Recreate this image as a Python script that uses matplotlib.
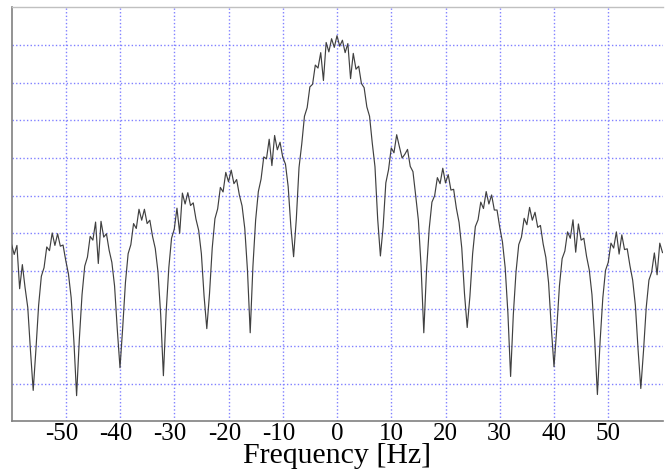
import numpy as np
import matplotlib
matplotlib.use("Agg")
import matplotlib.pyplot as plt
from matplotlib.transforms import ScaledTranslation

# Frequency samples (Hz), 0.5 Hz apart
freq = np.arange(-60, 60.5, 0.5)

# Spectrum level (dB), negative side -60 .. -0.5
power_neg = [
    -52.9, -55.6, -53.2, -64.7, -58.3, -64.4, -69.7, -81.2, -91.7,
    -80.9, -69.1, -61.4, -59.1, -53.6, -54.6, -49.9, -53.2, -50.1, -53.4, -53.1, -57.2, -60.8, -67.1, -78.6, -93.1,
    -78.2, -66.3, -58.7, -56.3, -50.8, -51.8, -47.0, -58.0, -46.8, -51.0, -50.1, -54.5, -57.7, -64.0, -75.5, -85.7,
    -75.0, -63.1, -55.4, -53.0, -47.4, -48.7, -43.6, -46.5, -43.6, -47.4, -46.5, -50.8, -54.0, -60.2, -71.6, -87.8,
    -71.1, -59.1, -51.3, -48.9, -43.3, -50.0, -39.3, -42.2, -39.2, -42.6, -41.9, -46.2, -49.2, -55.4, -66.7, -75.3,
    -66.0, -53.9, -46.1, -43.5, -37.8, -39.0, -33.8, -36.3, -33.2, -36.8, -35.7, -39.8, -42.7, -48.7, -59.9, -76.4,
    -58.8, -46.5, -38.9, -35.6, -29.7, -30.2, -25.0, -32.0, -24.0, -27.8, -25.8, -29.8, -31.6, -37.6, -48.3, -56.2,
    -46.2, -32.5, -26.3, -18.9, -16.6, -11.1, -10.4, -5.3, -6.1, -2.0, -9.4, 0.7, -1.8, 1.7, -0.6,
]
# positive side 0 .. 60
power_pos = [
    2.5, -0.3, 1.3, -2.0, 0.4, -8.9, -2.2, -6.4, -5.6, -10.2, -11.3, -16.4, -18.9, -26.0, -32.3, -46.2, -56.0,
    -48.3, -36.6, -33.1, -27.3, -28.6, -23.8, -27.0, -30.0, -29.0, -27.7, -32.2, -33.6, -39.9, -46.5, -58.8, -76.4,
    -59.9, -48.7, -41.7, -40.0, -35.2, -36.8, -32.7, -36.6, -34.4, -38.5, -38.3, -43.3, -47.1, -53.9, -66.0, -75.0,
    -66.7, -55.4, -48.2, -46.4, -41.7, -43.4, -38.9, -42.2, -39.8, -43.8, -43.8, -48.4, -52.3, -59.1, -71.1, -88.0,
    -71.6, -60.2, -53.0, -51.0, -46.0, -47.7, -43.1, -46.5, -44.4, -48.4, -47.9, -52.8, -56.4, -63.1, -75.0, -85.4,
    -75.5, -64.0, -56.7, -54.7, -49.6, -51.3, -46.4, -55.0, -47.5, -51.8, -51.3, -56.1, -59.7, -66.3, -78.2, -92.8,
    -78.6, -67.1, -59.8, -57.7, -52.6, -53.9, -49.6, -55.5, -50.4, -54.3, -54.1, -58.6, -62.4, -69.1, -80.9, -91.2,
    -81.2, -69.7, -62.4, -60.3, -55.2, -61.0, -52.6, -55.1,
]
power_db = np.array(power_neg + power_pos)

xticks = [-50, -40, -30, -20, -10, 0, 10, 20, 30, 40, 50]
xtick_labels = ["-50", "-40", "-30", "-20", "-10", "0", "10", "20", "30", "40", "50"]
ygrid = [-90, -80, -70, -60, -50, -40, -30, -20, -10, 0]

W, H = 665, 471
fig = plt.figure(figsize=(W / 100, H / 100), dpi=100)
ax = fig.add_axes([11.5 / W, (H - 420.5) / H, (662.5 - 11.5) / W, (420.5 - 6.7) / H])

ax.plot(freq, power_db, color="#404040", lw=0.85, zorder=3)

ax.set_xlim(-60, 60)
ax.set_ylim(-99.7, 10.2)
ax.set_xticks(xticks)
ax.set_xticklabels(xtick_labels, fontfamily="Liberation Serif", fontsize=18)
ax.set_yticks(ygrid)
ax.set_yticklabels([])
ax.tick_params(axis="both", length=0, pad=2.0)

# shift negative labels so the digits sit on the tick
for lab, txt in zip(ax.get_xticklabels(), xtick_labels):
    if txt.startswith("-"):
        lab.set_transform(lab.get_transform() + ScaledTranslation(-4 / 100, 0, fig.dpi_scale_trans))

ax.grid(True, color="#8080ff", lw=1.0, linestyle=(0, (1, 1.6)), zorder=1)

ax.set_xlabel("Frequency [Hz]", fontfamily="Liberation Serif", fontsize=21.5, labelpad=-1.5)

for s in ["left", "bottom"]:
    ax.spines[s].set_color("#808080")
    ax.spines[s].set_linewidth(1.2)
ax.spines["top"].set_color("#c0c0c0")
ax.spines["top"].set_linewidth(1.0)
ax.spines["right"].set_visible(False)

fig.savefig("out.png", dpi=100)
